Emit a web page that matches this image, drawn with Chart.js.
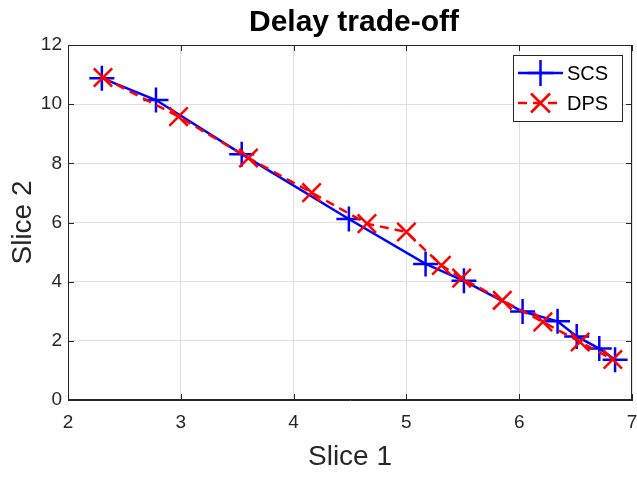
<!DOCTYPE html>
<html>
<head>
<meta charset="utf-8">
<script src="https://cdn.jsdelivr.net/npm/chart.js@4/dist/chart.umd.min.js"></script>
<style>
  html, body { margin: 0; padding: 0; background: #fff; overflow: hidden; }
  canvas { display: block; }
</style>
</head>
<body>
<canvas id="delay" width="637" height="481"></canvas>
<script>
// values
const chartTitle = 'Delay trade-off'
const scsX = [2.30, 2.78, 3.54, 4.49, 5.17, 5.51, 6.03, 6.34, 6.51, 6.71, 6.85]
const scsY = [10.88, 10.14, 8.31, 6.12, 4.60, 4.03, 2.99, 2.66, 2.15, 1.74, 1.36]
const dpsX = [2.31, 2.98, 3.60, 4.16, 4.65, 5.00, 5.31, 5.49, 5.85, 6.21, 6.54, 6.83]
const dpsY = [10.90, 9.58, 8.18, 7.01, 5.96, 5.68, 4.55, 4.12, 3.37, 2.64, 1.96, 1.37]
const xTicks = [2, 3, 4, 5, 6, 7]
const yTicks = [0, 2, 4, 6, 8, 10, 12]

const FONT = 'Liberation Sans, Arial, Helvetica, sans-serif'
const AXIS = '#262626'

function toPoints(xs, ys){
    return xs.map((x, i) => ({x: x, y: ys[i]}))
}

// title over the plot, box round it, inward ticks on all four sides, and a MATLAB-like legend
const matlabBox = {
    id: 'matlabBox',
    afterDatasetsDraw(chart){
        const {ctx, chartArea: a, scales} = chart
        ctx.save()
        ctx.fillStyle = '#000'
        ctx.font = 'bold 30px ' + FONT
        ctx.textAlign = 'center'
        ctx.textBaseline = 'middle'
        ctx.fillText(chartTitle, (a.left + a.right) / 2 + 4, 23)
        ctx.textAlign = 'left'

        ctx.strokeStyle = AXIS
        ctx.lineWidth = 1
        ctx.beginPath()
        xTicks.forEach(v => {
            const px = Math.round(scales.x.getPixelForValue(v)) + 0.5
            ctx.moveTo(px, a.bottom); ctx.lineTo(px, a.bottom - 6)
            ctx.moveTo(px, a.top); ctx.lineTo(px, a.top + 6)
        })
        yTicks.forEach(v => {
            const py = Math.round(scales.y.getPixelForValue(v)) + 0.5
            ctx.moveTo(a.left, py); ctx.lineTo(a.left + 6, py)
            ctx.moveTo(a.right, py); ctx.lineTo(a.right - 6, py)
        })
        ctx.stroke()
        ctx.strokeRect(Math.round(a.left) + 0.5, Math.round(a.top) + 0.5,
            Math.round(a.right - a.left) - 1, Math.round(a.bottom - a.top) - 1)

        // legend
        const bx = a.right - 119, by = a.top + 10, bw = 109, bh = 66
        ctx.fillStyle = '#fff'
        ctx.fillRect(bx, by, bw, bh)
        ctx.strokeStyle = AXIS
        ctx.strokeRect(bx + 0.5, by + 0.5, bw, bh)
        const items = chart.data.datasets.slice().sort((p, q) => q.order - p.order)
        items.forEach((ds, i) => {
            const cy = by + 18 + i * 30
            ctx.strokeStyle = ds.borderColor
            ctx.lineWidth = 2.5
            ctx.setLineDash(ds.borderDash || [])
            ctx.beginPath()
            ctx.moveTo(bx + 5, cy); ctx.lineTo(bx + 50, cy)
            ctx.stroke()
            ctx.setLineDash([])
            const r = ds.pointStyle === 'cross' ? 13 : 9.5
            ctx.beginPath()
            if (ds.pointStyle === 'cross'){
                ctx.moveTo(bx + 27.5 - r, cy); ctx.lineTo(bx + 27.5 + r, cy)
                ctx.moveTo(bx + 27.5, cy - r); ctx.lineTo(bx + 27.5, cy + r)
            } else {
                ctx.moveTo(bx + 27.5 - r, cy - r); ctx.lineTo(bx + 27.5 + r, cy + r)
                ctx.moveTo(bx + 27.5 - r, cy + r); ctx.lineTo(bx + 27.5 + r, cy - r)
            }
            ctx.stroke()
            ctx.fillStyle = '#000'
            ctx.font = '20px ' + FONT
            ctx.textBaseline = 'middle'
            ctx.fillText(ds.label, bx + 54, cy + 1)
        })
        ctx.restore()
    }
}

new Chart(document.getElementById('delay'), {
    type: 'scatter',
    data: {
        datasets: [{
            label: 'SCS',
            data: toPoints(scsX, scsY),
            showLine: true,
            borderColor: '#0000ff',
            backgroundColor: '#0000ff',
            borderWidth: 2.5,
            pointStyle: 'cross',
            pointRadius: 12.5,
            pointBorderWidth: 2.5,
            order: 2
        }, {
            label: 'DPS',
            data: toPoints(dpsX, dpsY),
            showLine: true,
            borderColor: '#ff0000',
            backgroundColor: '#ff0000',
            borderWidth: 2.5,
            borderDash: [9, 6],
            pointStyle: 'crossRot',
            pointRadius: 13,
            pointBorderWidth: 2.5,
            order: 1
        }]
    },
    options: {
        responsive: false,
        animation: false,
        layout: {autoPadding: false, padding: {top: 45, right: 5, bottom: 0, left: 0}},
        plugins: {
            legend: {display: false},
            tooltip: {enabled: false},
            title: {display: false}
        },
        scales: {
            x: {
                type: 'linear',
                min: 2, max: 7,
                afterFit: s => { s.height = 81; s.paddingLeft = 0; s.paddingRight = 0 },
                afterBuildTicks: s => { s.ticks = xTicks.map(v => ({value: v})) },
                grid: {color: '#dfdfdf', drawTicks: false},
                border: {color: AXIS},
                ticks: {color: AXIS, padding: 11, font: {family: FONT, size: 19}},
                title: {
                    display: true, text: 'Slice 1', color: AXIS,
                    font: {family: FONT, size: 28, lineHeight: 1.2},
                    padding: {top: 0, bottom: 7}
                }
            },
            y: {
                type: 'linear',
                min: 0, max: 12,
                afterFit: s => { s.width = 68; s.paddingTop = 0; s.paddingBottom = 0 },
                afterBuildTicks: s => { s.ticks = yTicks.map(v => ({value: v})) },
                grid: {color: '#dfdfdf', drawTicks: false},
                border: {color: AXIS},
                ticks: {color: AXIS, padding: 6, font: {family: FONT, size: 19}},
                title: {
                    display: true, text: 'Slice 2', color: AXIS,
                    font: {family: FONT, size: 28, lineHeight: 1.2},
                    padding: {top: 6, bottom: 0}
                }
            }
        }
    },
    plugins: [matlabBox]
})
</script>
</body>
</html>
